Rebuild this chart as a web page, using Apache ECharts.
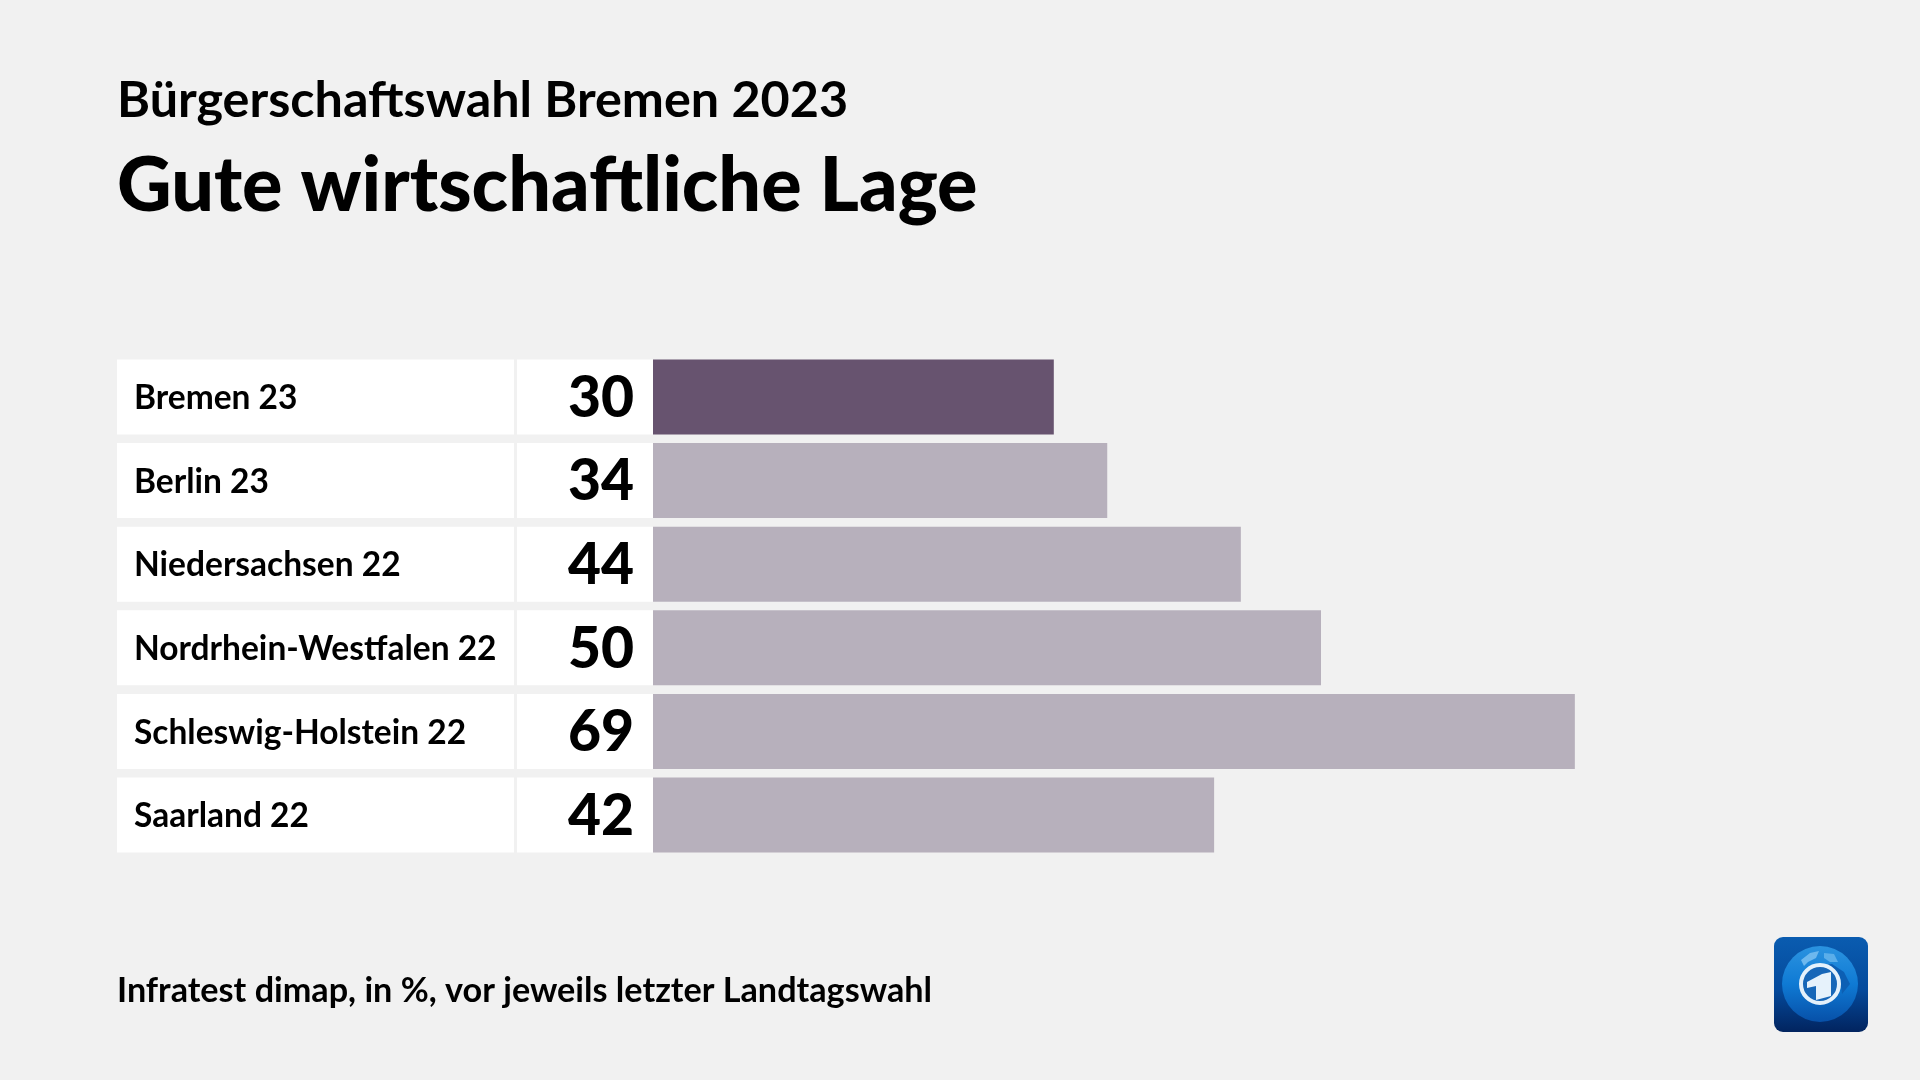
<!DOCTYPE html>
<html><head><meta charset="utf-8">
<style>html,body{margin:0;padding:0;background:#f1f1f1}#c{width:1920px;height:1080px}</style>
<script src="https://cdn.jsdelivr.net/npm/echarts@6/dist/echarts.min.js"></script></head>
<body><div id="c"></div>
<script>
const categories = ["Bremen 23","Berlin 23","Niedersachsen 22","Nordrhein-Westfalen 22","Schleswig-Holstein 22","Saarland 22"];
const values = [30,34,44,50,69,42];
const highlighted = "Bremen 23";
const subtitle = "Bürgerschaftswahl Bremen 2023";
const heading = "Gute wirtschaftliche Lage";
const source = "Infratest dimap, in %, vor jeweils letzter Landtagswahl";
const FONT = "Lato";
const DARK="#67536f", LIGHT="#b7b0bc", BG="#f1f1f1", INK="#000";
const gridTop=355.2, gridH=501.6, barH=75;
const grids=[
 {left:117,width:397,top:gridTop,height:gridH},
 {left:517,width:136,top:gridTop,height:gridH},
 {left:653,width:1202.4,top:gridTop,height:gridH}
];
const yAxes=grids.map((g,i)=>({type:'category',gridIndex:i,data:categories,inverse:true,show:false}));
const xAxes=[
 {type:'value',gridIndex:0,min:0,max:1,show:false},
 {type:'value',gridIndex:1,min:0,max:1,show:false},
 {type:'value',gridIndex:2,min:0,max:90,show:false}
];
const chart=echarts.init(document.getElementById('c'),null,{renderer:'canvas'});
chart.setOption({
 backgroundColor:BG,animation:false,
 title:[
  {text:subtitle,left:112,top:71,textStyle:{fontFamily:FONT,fontWeight:700,fontSize:50.3,color:INK}},
  {text:heading,left:112,top:144,textStyle:{fontFamily:FONT,fontWeight:900,fontSize:75.5,color:INK}},
  {text:source,left:112,top:969,textStyle:{fontFamily:FONT,fontWeight:700,fontSize:34.2,color:INK}}
 ],
 grid:grids,xAxis:xAxes,yAxis:yAxes,
 series:[
  {type:'bar',xAxisIndex:0,yAxisIndex:0,barWidth:barH,silent:true,
   data:categories.map(c=>({value:1,name:c})),itemStyle:{color:'#fff'},
   label:{show:true,position:'insideLeft',distance:17,offset:[0,1.5],formatter:p=>p.name,fontFamily:FONT,fontWeight:700,fontSize:33.5,color:INK}},
  {type:'bar',xAxisIndex:1,yAxisIndex:1,barWidth:barH,silent:true,
   data:values.map(v=>({value:1})),itemStyle:{color:'#fff'},
   label:{show:true,position:'insideRight',distance:19,offset:[0,1.5],formatter:p=>String(values[p.dataIndex]),fontFamily:FONT,fontWeight:900,fontSize:57,color:INK}},
  {type:'bar',xAxisIndex:2,yAxisIndex:2,barWidth:barH,silent:true,
   data:values.map((v,i)=>({value:v,itemStyle:{color:categories[i]===highlighted?DARK:LIGHT}}))}
 ],
 graphic:{type:'group',left:1774,top:937,children:[
  {type:'rect',shape:{x:0,y:0,width:94,height:95,r:9},style:{fill:new echarts.graphic.LinearGradient(0,0,0,1,[{offset:0,color:'#0a5cb0'},{offset:.55,color:'#044a9c'},{offset:1,color:'#02245f'}])}},
  {type:'circle',shape:{cx:46,cy:47,r:38},style:{fill:new echarts.graphic.LinearGradient(0,0,0,1,[{offset:0,color:'#2b93e0'},{offset:.5,color:'#0f7ad4'},{offset:1,color:'#0750a8'}])}},
  {type:'polygon',shape:{points:[[27,23],[36,16],[45,14],[42,21],[34,25],[30,29]]},style:{fill:'#6db8ee'}},
  {type:'polygon',shape:{points:[[50,16],[60,17],[64,25],[56,25],[50,21]]},style:{fill:'#5aaeea'}},
  {type:'polygon',shape:{points:[[42,29],[58,27],[70,35],[76,47],[68,57],[66,41],[54,31]]},style:{fill:'#0c5fb4'}},
  {type:'circle',shape:{cx:46,cy:47,r:19},style:{fill:'#1767b8',stroke:'#e4f1fb',lineWidth:4}},
  {type:'polygon',shape:{points:[[33,45],[48,37],[57,35],[57,59],[42,63],[42,49],[33,51]]},style:{fill:'#e6f2fb'}}
 ]}
});
</script></body></html>
